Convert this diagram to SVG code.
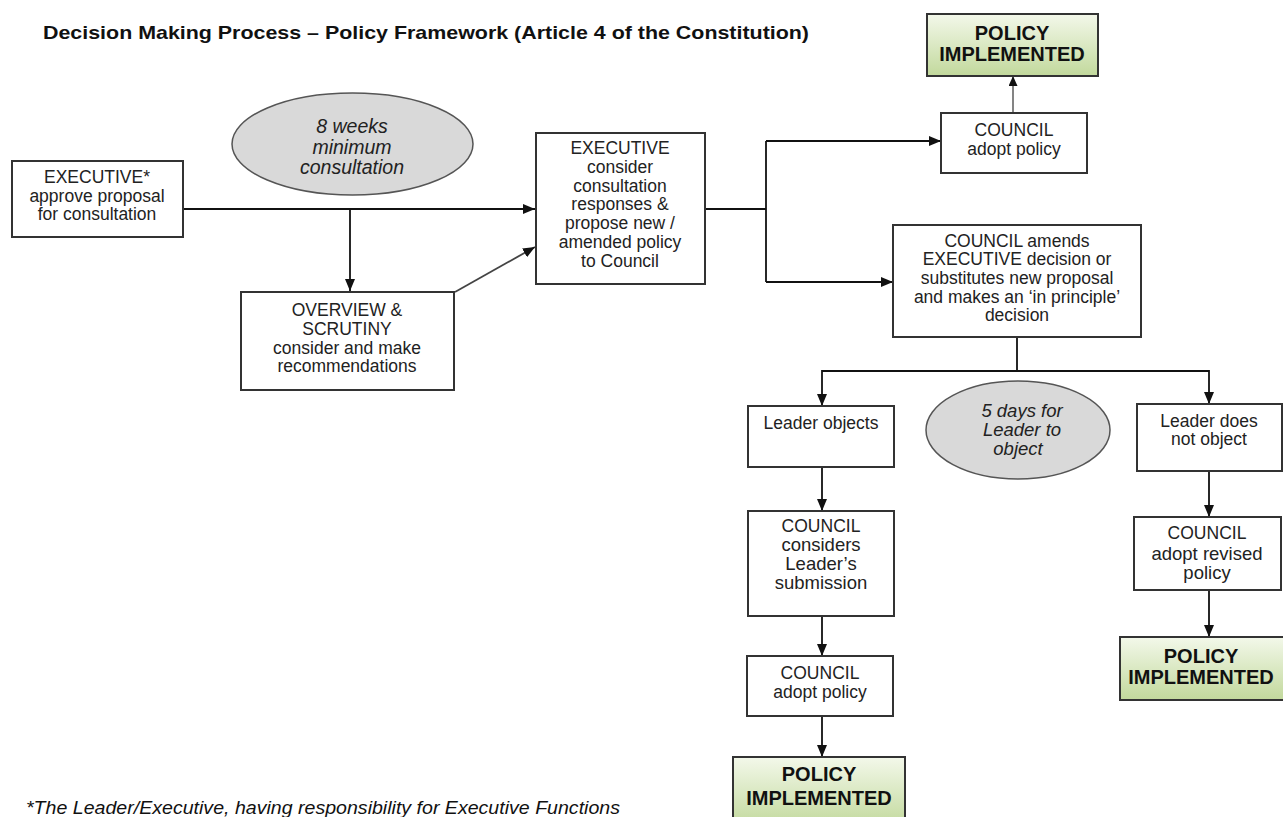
<svg xmlns="http://www.w3.org/2000/svg" width="1283" height="817" viewBox="0 0 1283 817">
<defs>
<linearGradient id="green" x1="0" y1="0" x2="0" y2="1">
<stop offset="0" stop-color="#f3f8ea"/>
<stop offset="1" stop-color="#c2d99c"/>
</linearGradient>
<marker id="arr" markerUnits="userSpaceOnUse" markerWidth="12" markerHeight="10" refX="12" refY="5" orient="auto">
<path d="M0,0 L12,5 L0,10 z" fill="#111"/>
</marker>
<marker id="arrg" markerUnits="userSpaceOnUse" markerWidth="10" markerHeight="9" refX="10" refY="4.5" orient="auto">
<path d="M0,0 L10,4.5 L0,9 z" fill="#111"/>
</marker>
<style>
.box{fill:#fff;stroke:#333;stroke-width:2}
.pol{fill:url(#green);stroke:#333;stroke-width:2}
.ell{fill:#d9d9d9;stroke:#555;stroke-width:1.5}
.t{font-family:"Liberation Sans",Arial,sans-serif;font-size:17.5px;fill:#222;text-anchor:middle;dominant-baseline:central}
.tl{font-size:18.5px}
.ti{font-family:"Liberation Sans",Arial,sans-serif;font-style:italic;font-size:19.5px;fill:#222;text-anchor:middle;dominant-baseline:central}
.ts{font-size:18.5px}
.tp{font-family:"Liberation Sans",Arial,sans-serif;font-weight:bold;font-size:20px;fill:#111;text-anchor:middle;dominant-baseline:central}
.c{fill:none;stroke:#111;stroke-width:1.8}
.cg{fill:none;stroke:#777;stroke-width:1.8}
</style>
</defs>
<rect width="1283" height="817" fill="#fff"/>
<text x="43" y="39" font-family="Liberation Sans,Arial,sans-serif" font-weight="bold" font-size="19" fill="#111" textLength="766" lengthAdjust="spacingAndGlyphs">Decision Making Process – Policy Framework (Article 4 of the Constitution)</text>

<g id="connectors">
<line class="c" x1="183" y1="209" x2="535" y2="209" marker-end="url(#arr)"/>
<line class="c" x1="350" y1="209" x2="350" y2="291" marker-end="url(#arr)"/>
<line class="c" x1="455" y1="292" x2="535" y2="247" marker-end="url(#arr)" style="stroke:#444"/>
<line class="c" x1="705" y1="209" x2="766" y2="209"/>
<line class="c" x1="766" y1="141" x2="766" y2="282"/>
<line class="c" x1="766" y1="141" x2="941" y2="141" marker-end="url(#arr)"/>
<line class="c" x1="766" y1="282" x2="893" y2="282" marker-end="url(#arr)"/>
<line class="cg" x1="1013" y1="113" x2="1013" y2="76" marker-end="url(#arrg)"/>
<line class="c" x1="1017" y1="337" x2="1017" y2="371"/>
<line class="c" x1="822" y1="371" x2="1209" y2="371"/>
<line class="c" x1="822" y1="370" x2="822" y2="406" marker-end="url(#arr)"/>
<line class="c" x1="1209" y1="370" x2="1209" y2="404" marker-end="url(#arr)"/>
<line class="c" x1="822" y1="467" x2="822" y2="511" marker-end="url(#arr)"/>
<line class="c" x1="822" y1="616" x2="822" y2="656" marker-end="url(#arr)"/>
<line class="c" x1="822" y1="716" x2="822" y2="757" marker-end="url(#arr)"/>
<line class="c" x1="1209" y1="471" x2="1209" y2="517" marker-end="url(#arr)"/>
<line class="c" x1="1209" y1="590" x2="1209" y2="637" marker-end="url(#arr)"/>
</g>

<g id="exec-approve">
<rect class="box" x="12" y="161" width="171" height="76"/>
<text class="t" x="97" y="177">EXECUTIVE*</text>
<text class="t" x="97" y="195.5">approve proposal</text>
<text class="t" x="97" y="214">for consultation</text>
</g>

<g id="ellipse-8weeks">
<ellipse class="ell" cx="352.5" cy="144" rx="120.5" ry="51"/>
<text class="ti" x="352" y="126">8 weeks</text>
<text class="ti" x="352" y="147">minimum</text>
<text class="ti" x="352" y="167">consultation</text>
</g>

<g id="overview">
<rect class="box" x="241" y="292" width="213" height="98"/>
<text class="t" x="347" y="310">OVERVIEW &amp;</text>
<text class="t" x="347" y="329">SCRUTINY</text>
<text class="t" x="347" y="348">consider and make</text>
<text class="t" x="347" y="366">recommendations</text>
</g>

<g id="exec-consider">
<rect class="box" x="536" y="133" width="169" height="151"/>
<text class="t" x="620" y="148">EXECUTIVE</text>
<text class="t" x="620" y="167">consider</text>
<text class="t" x="620" y="186">consultation</text>
<text class="t" x="620" y="204">responses &amp;</text>
<text class="t" x="620" y="223">propose new /</text>
<text class="t" x="620" y="242">amended policy</text>
<text class="t" x="620" y="261">to Council</text>
</g>

<g id="policy-top">
<rect class="pol" x="927" y="14" width="171" height="62"/>
<text class="tp" x="1012" y="33">POLICY</text>
<text class="tp" x="1012" y="54">IMPLEMENTED</text>
</g>

<g id="council-adopt-top">
<rect class="box" x="941" y="113" width="146" height="60"/>
<text class="t" x="1014" y="130">COUNCIL</text>
<text class="t" x="1014" y="149">adopt policy</text>
</g>

<g id="council-amends">
<rect class="box" x="893" y="225" width="248" height="112"/>
<text class="t" x="1017" y="241">COUNCIL amends</text>
<text class="t" x="1017" y="259">EXECUTIVE decision or</text>
<text class="t" x="1017" y="278">substitutes new proposal</text>
<text class="t" x="1017" y="297">and makes an ‘in principle’</text>
<text class="t" x="1017" y="315">decision</text>
</g>

<g id="leader-objects">
<rect class="box" x="748" y="406" width="146" height="61"/>
<text class="t" x="821" y="423">Leader objects</text>
</g>

<g id="ellipse-5days">
<ellipse class="ell" cx="1018" cy="430" rx="92" ry="49"/>
<text class="ti ts" x="1022" y="410">5 days for</text>
<text class="ti ts" x="1022" y="429">Leader to</text>
<text class="ti ts" x="1018" y="448">object</text>
</g>

<g id="leader-not-object">
<rect class="box" x="1137" y="404" width="145" height="67"/>
<text class="t" x="1209" y="421">Leader does</text>
<text class="t" x="1209" y="439">not object</text>
</g>

<g id="council-considers">
<rect class="box" x="748" y="511" width="146" height="105"/>
<text class="t" x="821" y="526">COUNCIL</text>
<text class="t tl" x="821" y="544">considers</text>
<text class="t tl" x="821" y="563">Leader’s</text>
<text class="t tl" x="821" y="582">submission</text>
</g>

<g id="council-adopt-bottom">
<rect class="box" x="747" y="656" width="146" height="60"/>
<text class="t" x="820" y="673">COUNCIL</text>
<text class="t" x="820" y="692">adopt policy</text>
</g>

<g id="policy-bottom">
<rect class="pol" x="733" y="757" width="172" height="70"/>
<text class="tp" x="819" y="774">POLICY</text>
<text class="tp" x="819" y="798">IMPLEMENTED</text>
</g>

<g id="council-adopt-revised">
<rect class="box" x="1134" y="517" width="147" height="73"/>
<text class="t" x="1207" y="533">COUNCIL</text>
<text class="t tl" x="1207" y="553">adopt revised</text>
<text class="t tl" x="1207" y="572">policy</text>
</g>

<g id="policy-right">
<rect class="pol" x="1120" y="637" width="172" height="63"/>
<text class="tp" x="1201" y="656">POLICY</text>
<text class="tp" x="1201" y="677">IMPLEMENTED</text>
</g>

<text x="26" y="814" font-family="Liberation Sans,Arial,sans-serif" font-style="italic" font-size="18" fill="#111" textLength="594" lengthAdjust="spacingAndGlyphs">*The Leader/Executive, having responsibility for Executive Functions</text>
</svg>
